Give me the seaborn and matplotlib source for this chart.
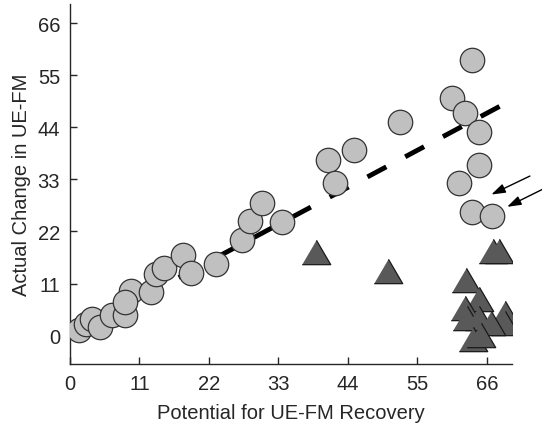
import numpy as np
import pandas as pd
import matplotlib
matplotlib.use('Agg')
import matplotlib.pyplot as plt
import seaborn as sns

# circles: patients whose change follows the potential
circ_x = [1.4, 2.6, 3.5, 4.7, 6.6, 8.7, 9.6, 8.7, 12.8, 13.7, 14.9, 17.9, 19.1, 23.2,
          27.3, 28.5, 30.4, 33.6, 40.9, 41.9, 45.0, 52.2, 63.7, 60.5, 62.6, 64.7,
          64.7, 61.6, 63.7, 66.8]
circ_y = [1.3, 2.5, 3.6, 1.8, 4.3, 4.3, 9.4, 7.2, 9.2, 13.0, 14.2, 17.0, 13.2, 15.1,
          20.2, 24.2, 28.1, 24.1, 37.1, 32.2, 39.1, 45.1, 58.1, 50.2, 47.1, 43.1,
          36.1, 32.2, 26.2, 25.2]

# triangles: patients who fell short
tri_x = [38.9, 50.3, 66.9, 67.9, 62.7, 64.8, 62.5, 62.8, 64.8, 68.8, 68.8, 66.7, 63.8, 65.1]
tri_y = [17.7, 13.7, 17.8, 17.8, 11.8, 7.8, 5.8, 3.7, 3.7, 4.8, 2.7, 2.6, -0.6, 0.2]

# fitted line (dashed), drawn from the top end so a dash finishes there
line_x = [68, 0]
line_y = [48.4, 0]

ticks = [0, 11, 22, 33, 44, 55, 66]

sns.set_theme(style='white')
plt.rcParams['font.family'] = ['Liberation Sans', 'DejaVu Sans']

fig = plt.figure(figsize=(5.42, 4.27), dpi=100)
ax = fig.add_axes([0.129, 0.145, 0.816, 0.843])

sns.lineplot(x=line_x, y=line_y, ax=ax, color='black', lw=3.5, sort=False, zorder=1)
ax.lines[0].set_dashes((4.4, 4.4))

tri_marker = [(-1.17, -1), (1.17, -1), (0, 1)]
sns.scatterplot(x=tri_x, y=tri_y, ax=ax, marker=tri_marker, s=420,
                color='#595959', edgecolor='#1a1a1a', linewidth=0.9, zorder=2)
sns.scatterplot(x=circ_x, y=circ_y, ax=ax, marker='o', s=310,
                color='#c0c0c0', edgecolor='#333333', linewidth=0.9, zorder=3)

# arrows pointing at two patients
for tail, head in [((72.8, 33.7), (66.7, 29.8)), ((74.8, 30.9), (69.2, 27.2))]:
    ax.annotate('', xy=head, xytext=tail, annotation_clip=False,
                arrowprops=dict(arrowstyle='-|>,head_length=0.6,head_width=0.2',
                                color='black', lw=1.0,
                                mutation_scale=14, shrinkA=0, shrinkB=0))

ax.set_xlim(0, 70)
ax.set_ylim(-6, 70)
ax.set_xticks(ticks)
ax.set_yticks(ticks)
sns.despine(ax=ax)
for sp in ['left', 'bottom']:
    ax.spines[sp].set_color('#262626')
    ax.spines[sp].set_linewidth(1.0)
ax.tick_params(direction='in', length=5, width=1, color='#262626',
               labelcolor='#262626', labelsize=14.5, left=True, bottom=True, pad=7)
ax.set_xlabel('Potential for UE-FM Recovery', fontsize=14.5, color='#262626', labelpad=7)
ax.set_ylabel('Actual Change in UE-FM', fontsize=14.5, color='#262626', labelpad=5)

fig.savefig('out.png', dpi=100)
